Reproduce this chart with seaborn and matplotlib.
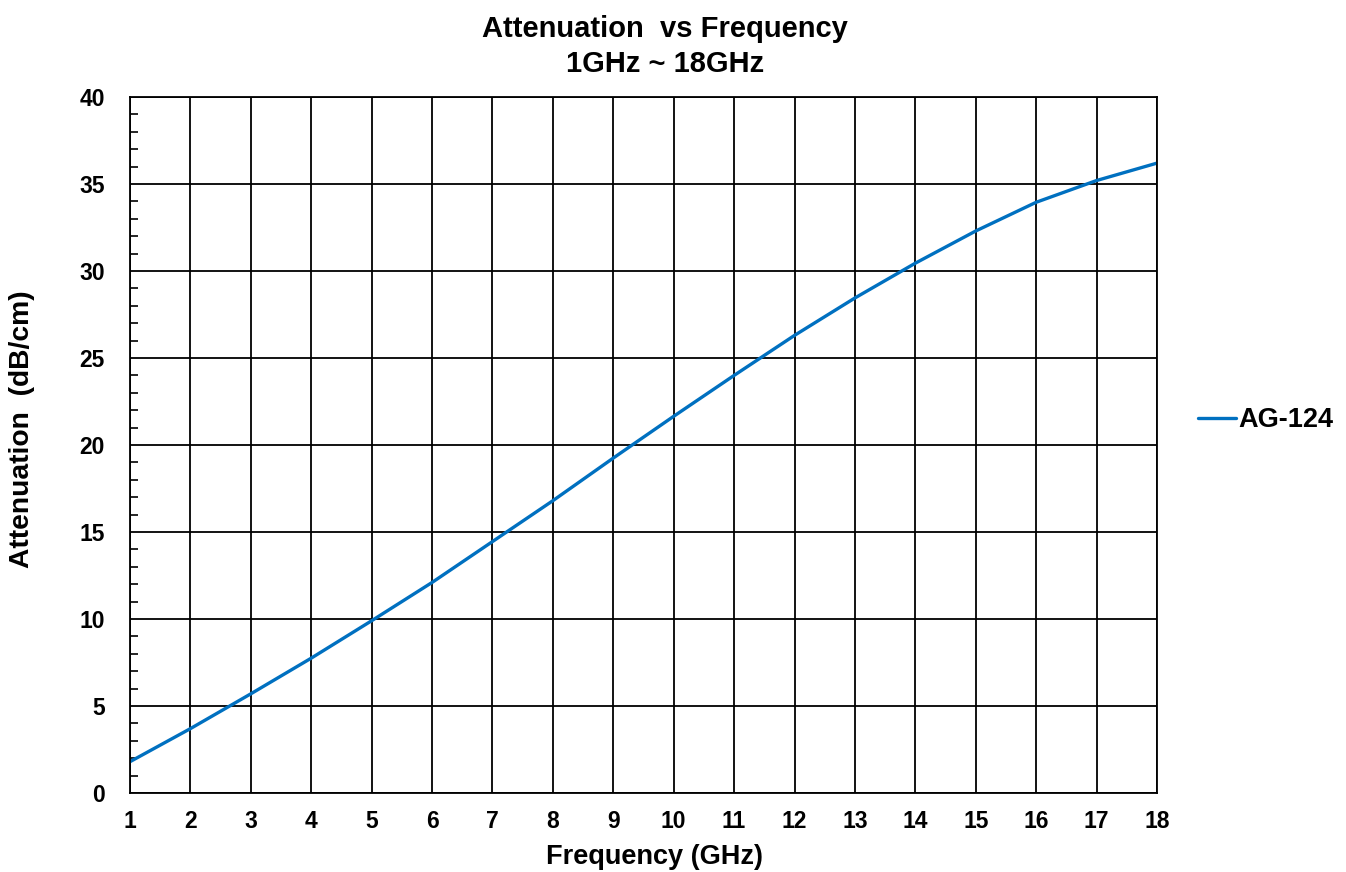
import matplotlib
matplotlib.use("Agg")
import matplotlib.pyplot as plt
import pandas as pd
import seaborn as sns
from matplotlib.ticker import MultipleLocator

# Values
freq_ghz = [1, 2, 3, 4, 5, 6, 7, 8, 9, 10, 11, 12, 13, 14, 15, 16, 17, 18]
atten_db = [1.8, 3.7, 5.7, 7.75, 9.9, 12.1, 14.45, 16.8, 19.25, 21.65,
            24.0, 26.3, 28.45, 30.45, 32.3, 33.95, 35.2, 36.2]
series_name = "AG-124"

W, H = 1346, 872

if __name__ == "__main__":
    sns.set_theme(style="white")
    plt.rcParams['font.family'] = ['Liberation Sans', 'DejaVu Sans']
    plt.rcParams['font.weight'] = 'bold'
    for k in ['text.color', 'axes.labelcolor', 'xtick.color', 'ytick.color']:
        plt.rcParams[k] = 'black'

    df = pd.DataFrame({'freq': freq_ghz, 'att': atten_db, 'name': series_name})

    fig = plt.figure(figsize=(W / 100, H / 100), dpi=100)
    ax = fig.add_axes([130 / W, 1 - 793 / H, (1157 - 130) / W, (793 - 97) / H])

    sns.lineplot(data=df, x='freq', y='att', hue='name', palette=['#0070C0'],
                 linewidth=2.4, ax=ax)

    ax.set_xlim(1, 18)
    ax.set_ylim(0, 40)
    ax.xaxis.set_major_locator(MultipleLocator(1))
    ax.yaxis.set_major_locator(MultipleLocator(5))
    ax.yaxis.set_minor_locator(MultipleLocator(1))
    ax.grid(True, which='major', color='black', linewidth=1.3)
    ax.set_axisbelow(True)
    for s in ax.spines.values():
        s.set_color('black')
        s.set_linewidth(1.3)
    ax.tick_params(axis='both', which='major', length=0, labelsize=16.5)
    ax.tick_params(axis='x', which='major', pad=12)
    ax.tick_params(axis='y', which='major', pad=18)
    ax.tick_params(axis='y', which='minor', direction='in', length=6, width=1.2,
                   color='black', left=True)
    for lab in ax.get_xticklabels() + ax.get_yticklabels():
        lab.set_fontweight('bold')

    ax.set_xlabel('Frequency (GHz)', fontsize=19.5, fontweight='bold', va='center')
    ax.xaxis.set_label_coords((655 - 130) / 1027, -(857 - 793) / 696)
    ax.set_ylabel('Attenuation  (dB/cm)', fontsize=20.3, fontweight='bold',
                  va='center', ha='center')
    ax.yaxis.set_label_coords((22 - 130) / 1027, (793 - 429) / 696)

    fig.text(665 / W, 1 - 29 / H, 'Attenuation  vs Frequency', fontsize=21,
             fontweight='bold', ha='center', va='center')
    fig.text(665 / W, 1 - 64 / H, '1GHz ~ 18GHz', fontsize=21,
             fontweight='bold', ha='center', va='center')

    ax.legend(loc='center left', bbox_to_anchor=(1198 / W, 1 - 420 / H),
              bbox_transform=fig.transFigure, frameon=False,
              handlelength=1.4, handletextpad=0.1, borderpad=0, borderaxespad=0,
              prop={'weight': 'bold', 'size': 19.5})

    fig.savefig('out.png', dpi=100)
